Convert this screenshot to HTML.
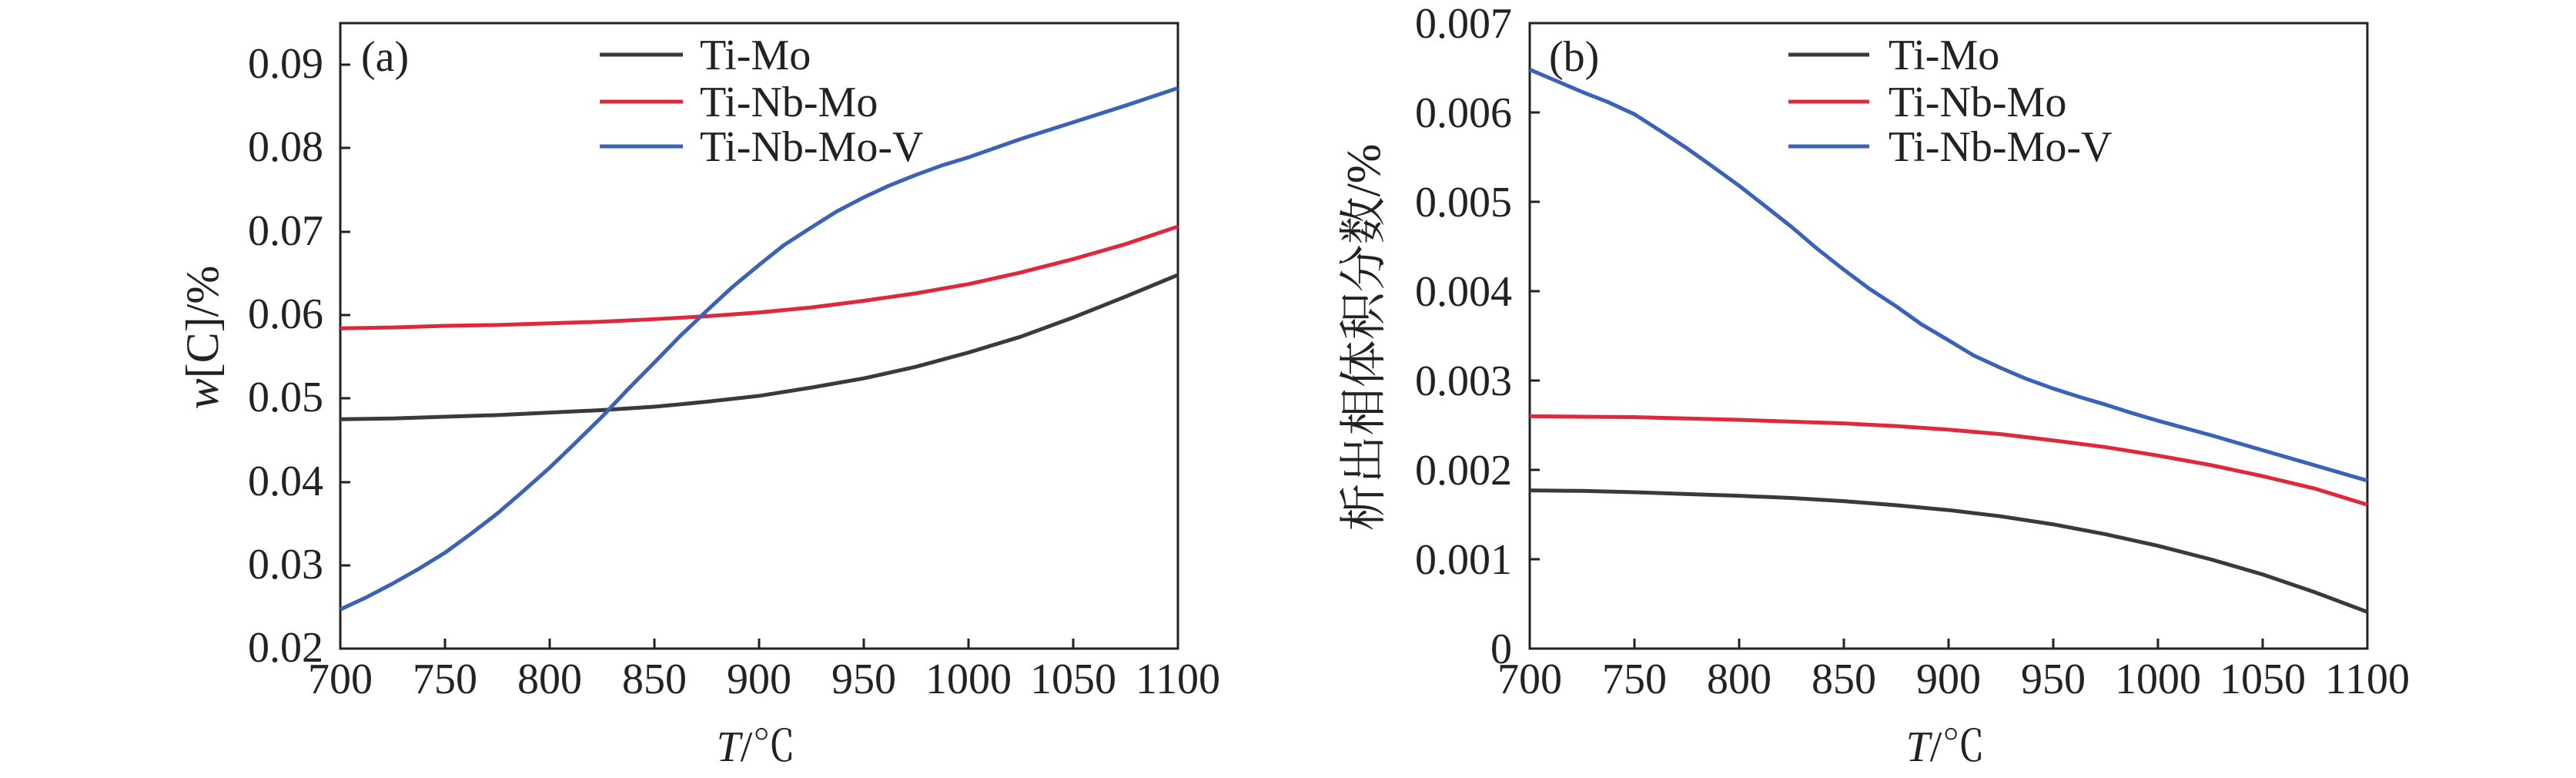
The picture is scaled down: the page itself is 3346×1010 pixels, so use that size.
<!DOCTYPE html>
<html><head><meta charset="utf-8"><style>
html,body{margin:0;padding:0;background:#fff;}
svg text{font-family:"Liberation Serif","Noto Serif CJK SC",serif;fill:#222;}
</style></head><body>
<svg width="3346" height="1005" viewBox="0 0 3346 1005" xmlns="http://www.w3.org/2000/svg">
<rect width="3346" height="1005" fill="#fff"/>
<!-- Panel a -->
<g font-size="56">
<rect x="442" y="30" width="1088" height="812" fill="none" stroke="#222" stroke-width="3"/>
<g stroke="#222" stroke-width="3">
<line x1="578" y1="842" x2="578" y2="829"/><line x1="714" y1="842" x2="714" y2="829"/><line x1="850" y1="842" x2="850" y2="829"/><line x1="986" y1="842" x2="986" y2="829"/><line x1="1122" y1="842" x2="1122" y2="829"/><line x1="1258" y1="842" x2="1258" y2="829"/><line x1="1394" y1="842" x2="1394" y2="829"/>
<line x1="442" y1="84" x2="455" y2="84"/><line x1="442" y1="192" x2="455" y2="192"/><line x1="442" y1="301" x2="455" y2="301"/><line x1="442" y1="409" x2="455" y2="409"/><line x1="442" y1="517" x2="455" y2="517"/><line x1="442" y1="626" x2="455" y2="626"/><line x1="442" y1="734" x2="455" y2="734"/>
</g>
<g text-anchor="end">
<text x="420" y="101">0.09</text><text x="420" y="209">0.08</text><text x="420" y="318">0.07</text><text x="420" y="426">0.06</text><text x="420" y="534">0.05</text><text x="420" y="643">0.04</text><text x="420" y="751">0.03</text><text x="420" y="859">0.02</text>
</g>
<g text-anchor="middle">
<text x="442" y="900">700</text><text x="578" y="900">750</text><text x="714" y="900">800</text><text x="850" y="900">850</text><text x="986" y="900">900</text><text x="1122" y="900">950</text><text x="1258" y="900">1000</text><text x="1394" y="900">1050</text><text x="1530" y="900">1100</text>
<text x="982" y="988"><tspan font-style="italic">T</tspan>/℃</text>
</g>
<text transform="translate(283,438) rotate(-90)" text-anchor="middle" font-size="60"><tspan font-style="italic">w</tspan>[C]/%</text>
<text x="469" y="92">(a)</text>
<line x1="779" y1="71" x2="887" y2="71" stroke="#3a3a3a" stroke-width="5"/>
<line x1="779" y1="132" x2="887" y2="132" stroke="#e0283c" stroke-width="5"/>
<line x1="779" y1="190" x2="887" y2="190" stroke="#3a62b8" stroke-width="5"/>
<text x="909" y="90">Ti-Mo</text><text x="909" y="151">Ti-Nb-Mo</text><text x="909" y="209">Ti-Nb-Mo-V</text>
<g transform="matrix(2.72 0 0 -10.83 -1462 1058.7)" fill="none" stroke-width="5" stroke-linejoin="round">
<polyline vector-effect="non-scaling-stroke" stroke="#3a3a3a" points="700,47.5 725,47.6 750,47.8 775,48.0 800,48.3 825,48.6 850,49.0 875,49.6 900,50.3 925,51.3 950,52.4 975,53.8 1000,55.5 1025,57.4 1050,59.7 1075,62.2 1100,64.8"/>
<polyline vector-effect="non-scaling-stroke" stroke="#e0283c" points="700,58.4 725,58.5 750,58.7 775,58.8 800,59.0 825,59.2 850,59.5 875,59.85 900,60.3 925,60.9 950,61.7 975,62.6 1000,63.7 1025,65.1 1050,66.7 1075,68.5 1100,70.6"/>
<polyline vector-effect="non-scaling-stroke" stroke="#3a62b8" points="700,24.7 712,26.1 725,27.8 737,29.5 750,31.5 762,33.7 775,36.2 787,38.8 800,41.7 812,44.6 825,47.8 837,51.0 850,54.3 862,57.4 875,60.5 887,63.3 900,66.0 912,68.4 925,70.5 937,72.4 950,74.1 962,75.5 975,76.8 987,77.9 1000,78.9 1025,81.1 1050,83.1 1075,85.1 1100,87.2"/>
</g>
</g>
<!-- Panel b -->
<g font-size="56">
<rect x="1987" y="30" width="1088" height="812" fill="none" stroke="#222" stroke-width="3"/>
<g stroke="#222" stroke-width="3">
<line x1="2123" y1="842" x2="2123" y2="829"/><line x1="2259" y1="842" x2="2259" y2="829"/><line x1="2395" y1="842" x2="2395" y2="829"/><line x1="2531" y1="842" x2="2531" y2="829"/><line x1="2667" y1="842" x2="2667" y2="829"/><line x1="2803" y1="842" x2="2803" y2="829"/><line x1="2939" y1="842" x2="2939" y2="829"/>
<line x1="1987" y1="146" x2="2000" y2="146"/><line x1="1987" y1="262" x2="2000" y2="262"/><line x1="1987" y1="378" x2="2000" y2="378"/><line x1="1987" y1="494" x2="2000" y2="494"/><line x1="1987" y1="610" x2="2000" y2="610"/><line x1="1987" y1="726" x2="2000" y2="726"/>
</g>
<g text-anchor="end">
<text x="1964" y="49">0.007</text><text x="1964" y="165">0.006</text><text x="1964" y="281">0.005</text><text x="1964" y="397">0.004</text><text x="1964" y="513">0.003</text><text x="1964" y="629">0.002</text><text x="1964" y="745">0.001</text><text x="1964" y="861">0</text>
</g>
<g text-anchor="middle">
<text x="1987" y="900">700</text><text x="2123" y="900">750</text><text x="2259" y="900">800</text><text x="2395" y="900">850</text><text x="2531" y="900">900</text><text x="2667" y="900">950</text><text x="2803" y="900">1000</text><text x="2939" y="900">1050</text><text x="3075" y="900">1100</text>
<text x="2527" y="988"><tspan font-style="italic">T</tspan>/℃</text>
</g>
<text transform="translate(1792,438) rotate(-90)" text-anchor="middle" font-size="62">析出相体积分数/%</text>
<text x="2012" y="92">(b)</text>
<line x1="2323" y1="71" x2="2428" y2="71" stroke="#3a3a3a" stroke-width="5"/>
<line x1="2323" y1="132" x2="2428" y2="132" stroke="#e0283c" stroke-width="5"/>
<line x1="2323" y1="190" x2="2428" y2="190" stroke="#3a62b8" stroke-width="5"/>
<text x="2453" y="90">Ti-Mo</text><text x="2453" y="151">Ti-Nb-Mo</text><text x="2453" y="209">Ti-Nb-Mo-V</text>
<g transform="matrix(2.72 0 0 -116 83 842)" fill="none" stroke-width="5" stroke-linejoin="round">
<polyline vector-effect="non-scaling-stroke" stroke="#3a3a3a" points="700,1.77 725,1.765 750,1.75 775,1.73 800,1.71 825,1.685 850,1.65 875,1.605 900,1.55 925,1.48 950,1.39 975,1.28 1000,1.15 1025,1.00 1050,0.83 1075,0.63 1100,0.41"/>
<polyline vector-effect="non-scaling-stroke" stroke="#e0283c" points="700,2.60 725,2.595 750,2.59 775,2.575 800,2.56 825,2.54 850,2.52 875,2.49 900,2.45 925,2.40 950,2.33 975,2.255 1000,2.16 1025,2.055 1050,1.93 1075,1.79 1100,1.61"/>
<polyline vector-effect="non-scaling-stroke" stroke="#3a62b8" points="700,6.48 712,6.36 725,6.23 737,6.12 750,5.98 762,5.80 775,5.60 787,5.40 800,5.18 812,4.96 825,4.72 837,4.48 850,4.24 862,4.03 875,3.83 887,3.63 900,3.45 912,3.28 925,3.14 937,3.02 950,2.91 962,2.82 975,2.73 987,2.64 1000,2.55 1025,2.39 1050,2.22 1075,2.05 1100,1.88"/>
</g>
</g>
</svg>
</body></html>
